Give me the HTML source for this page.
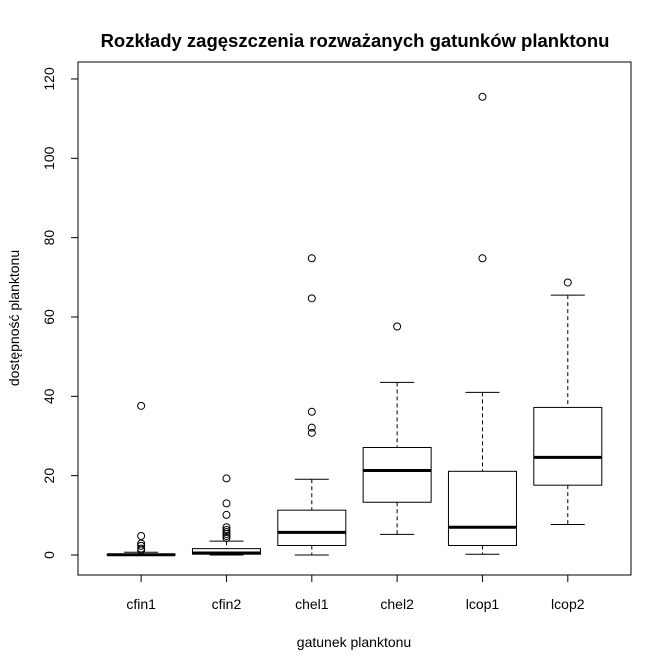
<!DOCTYPE html>
<html><head><meta charset="utf-8"><style>body{margin:0;background:#fff}svg{display:block;font-family:"Liberation Sans",sans-serif}</style></head>
<body>
<svg id="c" width="672" height="672">
<rect x="0" y="0" width="672" height="672" fill="#fff"/>
<text x="355" y="47" text-anchor="middle" font-weight="bold" font-size="18.5">Rozkłady zagęszczenia rozważanych gatunków planktonu</text>
<text x="354" y="647" text-anchor="middle" font-size="14">gatunek planktonu</text>
<text transform="translate(19,318) rotate(-90)" text-anchor="middle" font-size="14">dostępność planktonu</text>
<rect x="78" y="62" width="553" height="513" fill="none" stroke="#000"/>
<g id="g"></g>
</svg>
<script>
const categories=["cfin1","cfin2","chel1","chel2","lcop1","lcop2"];
const lows=[0,0,0,5.2,0.2,7.7];
const q1s=[0,0.2,2.4,13.3,2.4,17.6];
const medians=[0.05,0.5,5.7,21.3,7.0,24.6];
const q3s=[0.15,1.6,11.3,27.1,21.1,37.2];
const highs=[0.7,3.5,19.1,43.5,41.0,65.5];
const outliers=[[37.6,4.8,2.9,2.3,1.6,1.2],[19.3,13.0,10.1,7.0,6.3,5.8,5.3,4.8,4.3],[74.8,64.7,36.1,32.1,30.8],[57.6],[115.5,74.8],[68.7]];
const yTicks=[0,20,40,60,80,100,120];
const NS="http://www.w3.org/2000/svg",g=document.getElementById('g');
const X=i=>78+(i+1-0.26)*85.33, Y=v=>555-v*3.967;
function el(t,a,name){const e=document.createElementNS(NS,t);for(const k in a)e.setAttribute(k,a[k]);


g.appendChild(e);return e;}
yTicks.forEach(v=>{const y=Y(v);el('line',{x1:71,x2:78,y1:y,y2:y,stroke:'#000'},'y-tick');
const t=el('text',{transform:`translate(54,${y}) rotate(-90)`,'text-anchor':'middle','font-size':14},'y-tick-label');t.textContent=v;});
el('line',{x1:78,x2:78,y1:Y(0),y2:Y(120),stroke:'#000'},'y-axis-line');
el('line',{x1:X(0),x2:X(5),y1:575,y2:575,stroke:'#000'},'x-axis-line');
categories.forEach((c,i)=>{const x=X(i),w=34,hw=17;
el('line',{x1:x,x2:x,y1:575,y2:582,stroke:'#000'},'x-tick');
const t=el('text',{x:x,y:609,'text-anchor':'middle','font-size':14},'x-tick-label');t.textContent=c;
el('line',{x1:x,x2:x,y1:Y(highs[i]),y2:Y(q3s[i]),stroke:'#000','stroke-dasharray':'4,3'},'whisker-upper-'+c);
el('line',{x1:x,x2:x,y1:Y(q1s[i]),y2:Y(lows[i]),stroke:'#000','stroke-dasharray':'4,3'},'whisker-lower-'+c);
el('line',{x1:x-hw,x2:x+hw,y1:Y(highs[i]),y2:Y(highs[i]),stroke:'#000'},'whisker-cap-upper-'+c);
el('line',{x1:x-hw,x2:x+hw,y1:Y(lows[i]),y2:Y(lows[i]),stroke:'#000'},'whisker-cap-lower-'+c);
el('rect',{x:x-w,y:Y(q3s[i]),width:2*w,height:Math.max(0.5,Y(q1s[i])-Y(q3s[i])),fill:'#fff',stroke:'#000'},'box-'+c);
el('line',{x1:x-w,x2:x+w,y1:Y(medians[i]),y2:Y(medians[i]),stroke:'#000','stroke-width':3},'median-'+c);
outliers[i].forEach(v=>el('circle',{cx:x,cy:Y(v),r:3.5,fill:'none',stroke:'#000'},'outlier-'+c));
});
</script>
</body></html>
